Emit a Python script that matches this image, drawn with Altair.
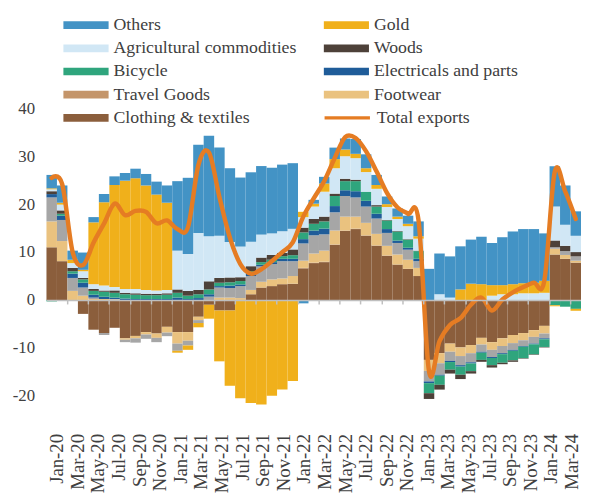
import altair as alt
import pandas as pd

months = ["Jan-20", "Feb-20", "Mar-20", "Apr-20", "May-20", "Jun-20", "Jul-20", "Aug-20", "Sep-20", "Oct-20", "Nov-20", "Dec-20",
          "Jan-21", "Feb-21", "Mar-21", "Apr-21", "May-21", "Jun-21", "Jul-21", "Aug-21", "Sep-21", "Oct-21", "Nov-21", "Dec-21",
          "Jan-22", "Feb-22", "Mar-22", "Apr-22", "May-22", "Jun-22", "Jul-22", "Aug-22", "Sep-22", "Oct-22", "Nov-22", "Dec-22",
          "Jan-23", "Feb-23", "Mar-23", "Apr-23", "May-23", "Jun-23", "Jul-23", "Aug-23", "Sep-23", "Oct-23", "Nov-23", "Dec-23",
          "Jan-24", "Feb-24", "Mar-24"]

clothing = [11.0, 8.1, 0.0, -2.9, -6.2, -6.9, -5.8, -8.0, -7.5, -6.7, -7.0, -5.6,
            -6.7, -6.7, -3.5, -1.0, -2.2, -2.2, 0.0, 1.2, 2.6, 2.9, 3.3, 3.4,
            6.6, 7.7, 7.9, 11.5, 14.4, 14.8, 13.4, 11.3, 9.2, 7.4, 6.5, 5.0,
            -12.5, -11.1, -9.1, -9.9, -9.4, -7.9, -8.8, -8.0, -7.3, -6.9, -6.3, -5.4,
            9.5, 8.6, 7.8]
travel = [0.0, 0.0, 0.0, 0.0, 0.0, 0.0, 0.0, 0.0, 0.0, 0.0, 0.0, 0.0,
          0.0, 0.0, 0.0, 0.0, 0.0, 0.0, 0.0, 0.0, 0.0, 0.0, 0.0, 0.0,
          0.1, 0.1, 0.1, 0.1, 0.1, 0.1, 0.1, 0.1, 0.1, 0.0, 0.0, 0.0,
          0.0, 0.0, 0.0, 0.0, 0.0, 0.0, 0.0, 0.0, 0.0, 0.0, 0.0, 0.0,
          0.0, 0.0, 0.0]
footwear = [5.4, 4.2, 1.9, 0.9, 0.2, 0.2, 0.1, -0.3, -0.5, -0.5, -0.9, -1.2,
            -2.4, -1.8, -0.7, 0.0, 0.5, 0.5, 0.4, 0.9, 1.2, 1.4, 1.2, 1.6,
            1.5, 1.9, 2.3, 2.9, 2.9, 2.5, 2.6, 2.4, 2.0, 2.1, 1.9, 1.7,
            -2.3, -2.1, -1.7, -1.8, -1.7, -1.4, -1.6, -1.6, -1.7, -1.5, -1.4, -1.6,
            1.2, 0.8, 0.4]
other_manu = [5.0, 4.4, 2.7, 1.7, 0.3, -0.4, 0.1, -0.5, -0.9, -0.9, -0.9, -0.75,
              -1.5, -1.0, -0.6, 0.7, 2.1, 2.0, 2.5, 2.9, 3.2, 3.2, 3.6, 3.1,
              3.6, 3.8, 3.4, 3.8, 4.3, 4.0, 3.4, 3.2, 2.7, 2.4, 2.1, 1.4,
              -2.2, -2.4, -1.9, -1.9, -1.9, -1.5, -1.5, -1.5, -1.4, -1.2, -1.4, -1.0,
              0.3, 0.8, 0.9]
electricals = [0.7, 0.9, 0.9, 1.0, 0.6, 0.5, 0.3, 0.3, 0.2, 0.2, 0.2, 0.2,
               0.5, 0.2, 0.4, 0.5, 0.3, 0.5, 0.35, 0.55, 0.35, 0.4, 0.5, 0.5,
               0.9, 1.0, 1.2, 1.3, 1.2, 1.3, 1.2, 1.0, 0.8, 0.5, 0.4, 0.5,
               -0.35, -0.2, -0.25, -0.3, -0.25, -0.2, -0.2, -0.2, -0.2, -0.15, -0.15, -0.2,
               -0.1, -0.2, -0.15]
bicycle = [-0.3, 0.4, 0.5, 0.7, 0.8, 1.0, 1.0, 0.9, 0.9, 0.8, 0.8, 0.9,
           1.0, 0.7, 0.8, 1.0, 0.7, 0.7, 0.7, 0.5, 0.55, 0.5, 0.55, 0.75,
           1.4, 1.4, 1.5, 2.1, 1.9, 2.1, 1.9, 1.5, 1.8, 1.9, 1.7, 1.6,
           -2.1, -1.9, -1.6, -1.7, -1.6, -1.5, -1.5, -1.8, -2.0, -2.4, -2.1, -1.6,
           -1.0, -1.2, -1.7]
woods = [0.6, 0.7, 0.7, 0.3, 0.4, 0.3, 0.5, 0.3, 0.3, 0.3, 0.3, 0.3,
         0.7, 1.0, 0.9, 1.7, 1.0, 1.0, 0.8, 1.0, 0.95, 1.0, 0.7, 1.2,
         1.0, 1.0, 1.0, 0.5, 0.5, 0.3, 0.0, 0.3, 0.1, 0.1, 0.1, 0.1,
         -1.2, -1.0, -0.8, -0.9, -0.5, -0.4, -0.5, -0.3, -0.3, -0.1, -0.1, -0.1,
         1.4, 1.1, 0.9]
agri = [0.4, 1.2, 1.0, 1.4, 1.0, 1.0, 0.7, 0.8, 0.9, 0.8, 0.7, 0.7,
        8.1, 7.7, 11.9, 9.4, 8.8, 7.4, 6.4, 5.1, 4.8, 4.5, 4.5, 4.3,
        2.2, 2.6, 5.2, 5.3, 4.7, 4.5, 4.1, 3.4, 2.7, 2.5, 2.7, 2.5,
        0.0, 1.2, 0.5, 0.0, 0.0, 0.0, 0.9, 1.2, 1.2, 1.4, 1.4, 1.5,
        7.1, 4.4, 3.4]
gold = [0.2, 0.4, 0.7, 0.3, 12.9, 17.4, 21.3, 22.6, 23.1, 21.8, 20.0, 18.2,
        -0.4, -0.9, -0.9, -2.9, -10.6, -15.7, -20.5, -21.5, -21.8, -20.0, -18.7, -16.9,
        1.1, 0.6, 1.7, 1.9, 1.4, 0.9, 0.8, 0.8, 0.6, 0.5, 0.5, 0.5,
        0.0, 0.0, 0.0, 2.2, 3.4, 3.3, 2.2, 1.9, 2.1, 2.1, 2.2, 2.5,
        -0.2, 0.0, -0.4]
others = [2.8, 3.6, 1.9, 3.6, 1.1, 1.7, 1.8, 1.6, 2.0, 2.4, 2.7, 3.6,
          14.5, 15.9, 18.4, 21.0, 18.4, 15.4, 14.4, 14.5, 14.3, 13.7, 13.9, 13.7,
          -0.7, 0.8, 1.4, 2.4, 2.3, 3.1, 2.9, 2.1, 1.6, 1.7, 1.7, 3.1,
          6.5, 8.5, 8.6, 9.0, 9.2, 9.9, 8.8, 10.0, 11.0, 11.3, 11.2, 9.9,
          8.4, 8.2, 5.1]
total = [25.5, 24.2, 10.0, 7.3, 12.0, 16.0, 20.1, 17.7, 18.6, 18.4, 16.0, 16.6,
         14.8, 15.2, 28.2, 30.8, 21.5, 13.0, 7.5, 5.5, 6.4, 8.1, 10.0, 12.0,
         17.4, 21.2, 24.8, 29.6, 34.0, 33.8, 31.0, 26.8, 22.3, 19.3, 18.0, 16.6,
         -14.9, -8.6, -5.2, -3.8, -1.0, 0.5, -2.2, 0.1, 1.6, 2.7, 3.6, 4.0,
         26.8, 22.6, 16.9]

series_names = ["Clothing & textiles", "Travel Goods", "Footwear", "Other manufactures",
                "Electricals and parts", "Bicycle", "Woods", "Agricultural commodities",
                "Gold", "Others"]
series_values = [clothing, travel, footwear, other_manu, electricals, bicycle, woods,
                 agri, gold, others]
colors = ["#8B5E3C", "#C4956A", "#EAC27F", "#A6A6A6", "#1F5C99", "#2FA57D", "#4D4139",
          "#D1E7F5", "#F0B01B", "#4393C5"]
# legend is filled column by column: left column first, then right column
legend_order = ["Others", "Agricultural commodities", "Bicycle", "Travel Goods",
                "Clothing & textiles", "Gold", "Woods", "Electricals and parts", "Footwear"]
line_name = "Total exports"
line_color = "#E57C23"

rows = []
for k, (name, vals) in enumerate(zip(series_names, series_values)):
    for m, v in zip(months, vals):
        rows.append({"month": m, "series": name, "value": v, "ord": k})
bars_df = pd.DataFrame(rows)
line_df = pd.DataFrame({"month": months, "value": total, "lname": line_name})

W, H = 542, 413
YMIN, YMAX = -26, 59
zero_offset = -H * (0 - YMIN) / (YMAX - YMIN)

FONT = "Liberation Serif"
TXT = "#404040"
GRID = "#BFBFBF"

y_scale = alt.Scale(domain=[YMIN, YMAX], nice=False, zero=False)
y_axis = alt.Axis(values=[-20, -10, 0, 10, 20, 30, 40], labelExpr="'' + datum.value",
                  domain=False, ticks=False, grid=False, title=None, labelFont=FONT,
                  labelFontSize=17, labelColor=TXT, labelPadding=12)

rect_path = "M-1,-0.17H1V0.17H-1Z"

bars = alt.Chart(bars_df).mark_bar().encode(
    x=alt.X("month:O", sort=months,
            scale=alt.Scale(type="band", domain=months, paddingInner=0, paddingOuter=0),
            axis=alt.Axis(orient="bottom", offset=zero_offset, labels=False, title=None,
                          domain=True, domainColor=GRID, domainWidth=1.5, ticks=True,
                          tickColor=GRID, tickWidth=1.5, tickSize=4, bandPosition=0,
                          values=months[2::2], grid=False, zindex=1)),
    y=alt.Y("value:Q", stack="zero", scale=y_scale, axis=y_axis),
    color=alt.Color("series:N", scale=alt.Scale(domain=series_names, range=colors),
                    legend=alt.Legend(title=None, orient="none", legendX=17, legendY=-1,
                                      columns=2, columnPadding=27, rowPadding=5.5,
                                      symbolType=rect_path, symbolSize=2116,
                                      symbolStrokeWidth=0, symbolOpacity=1,
                                      labelFont=FONT, labelFontSize=18, labelColor=TXT,
                                      labelOffset=5, labelLimit=400, clipHeight=18,
                                      padding=0, values=legend_order)),
    order=alt.Order("ord:Q", sort="ascending"),
)

line = alt.Chart(line_df).mark_line(strokeWidth=4.5, interpolate="cardinal", tension=0,
                                    strokeCap="round", strokeJoin="round").encode(
    x=alt.X("month:O", sort=months,
            scale=alt.Scale(type="band", domain=months, paddingInner=0, paddingOuter=0),
            axis=None),
    y=alt.Y("value:Q", scale=y_scale, axis=y_axis),
    stroke=alt.Stroke("lname:N", scale=alt.Scale(domain=[line_name], range=[line_color]),
                      legend=alt.Legend(title=None, orient="none", legendX=280, legendY=93,
                                        symbolType="stroke", symbolSize=2116,
                                        symbolStrokeWidth=3.5, labelFont=FONT,
                                        labelFontSize=18, labelColor=TXT, labelOffset=5,
                                        labelLimit=400, clipHeight=18, padding=0)),
)

# month labels (their spacing in the reference is slightly tighter than the bars)
labels = alt.Chart(line_df).mark_point(opacity=0).encode(
    x=alt.X("month:O", sort=months,
            scale=alt.Scale(type="band", domain=months, range=[5.8, 538.2],
                            paddingInner=0, paddingOuter=0),
            axis=alt.Axis(orient="bottom", values=months[0::2], labelAngle=270, ticks=False,
                          domain=False, title=None, labelFont=FONT, labelFontSize=19,
                          labelColor=TXT, labelPadding=9, grid=False)),
    y=alt.Y("value:Q", scale=y_scale, axis=y_axis),
)

chart = alt.layer(bars, line, labels).resolve_scale(x="independent").resolve_axis(
    x="independent").properties(
    width=W, height=H,
    autosize=alt.AutoSizeParams(type="none"),
    padding={"left": 39, "top": 6, "right": 0, "bottom": 68},
).configure_view(stroke=None)

chart.save("out.html", embed_options={"renderer": "svg", "actions": False})
